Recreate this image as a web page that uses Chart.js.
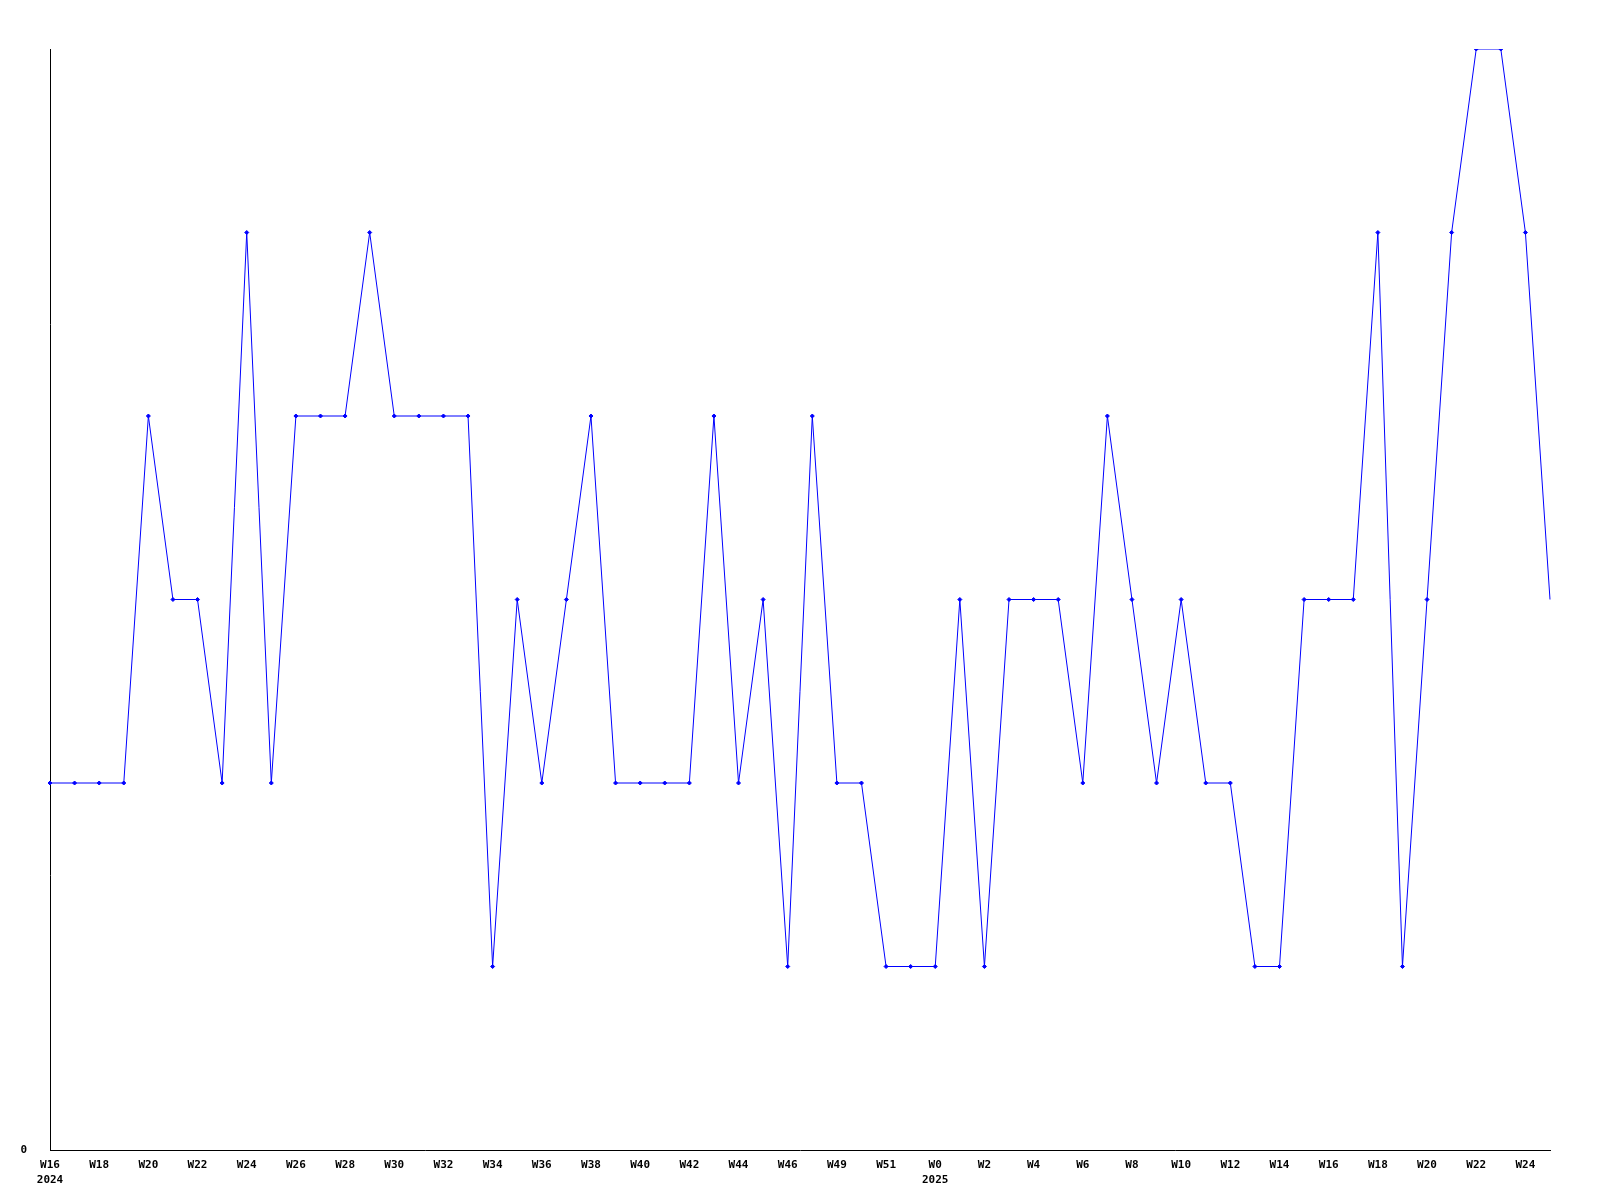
<!DOCTYPE html>
<html>
<head>
<meta charset="utf-8">
<script src="https://cdn.jsdelivr.net/npm/chart.js@4/dist/chart.umd.min.js"></script>
<style>
html,body{margin:0;padding:0;background:#fff;}
#wrap{width:1600px;height:1200px;}
</style>
</head>
<body>
<div id="wrap"><canvas id="c" width="1600" height="1200"></canvas></div>
<script>
const weeks = [
  "W16","W17","W18","W19","W20","W21","W22","W23","W24","W25",
  "W26","W27","W28","W29","W30","W31","W32","W33","W34","W35",
  "W36","W37","W38","W39","W40","W41","W42","W43","W44","W45",
  "W46","W47","W49","W50","W51","W52",
  "W0","W1","W2","W3","W4","W5","W6","W7","W8","W9",
  "W10","W11","W12","W13","W14","W15","W16","W17","W18","W19",
  "W20","W21","W22","W23","W24","W25"
];
const yearMarks = {0: "2024", 36: "2025"};
const values = [
  2,2,2,2,4,3,3,2,5,2,
  4,4,4,5,4,4,4,4,1,3,
  2,3,4,2,2,2,2,4,2,3,
  1,4,2,2,1,1,
  1,3,1,3,3,3,2,4,3,2,
  3,2,2,1,1,3,3,3,5,1,
  3,5,6,6,5,3
];
const yTickLabels = {0: "0"};

const radii = values.map((v, i) => i === values.length - 1 ? 0 : 2);

new Chart(document.getElementById('c'), {
  type: 'line',
  data: {
    labels: weeks,
    datasets: [{
      data: values,
      borderColor: '#0000ff',
      backgroundColor: '#0000ff',
      borderWidth: 1,
      pointRadius: radii,
      pointStyle: 'rectRot',
      pointBorderWidth: 1,
      tension: 0,
      fill: false
    }]
  },
  options: {
    responsive: false,
    animation: false,
    devicePixelRatio: 1,
    layout: {padding: {top: 49, right: 50, left: 0, bottom: 0}},
    plugins: {legend: {display: false}, tooltip: {enabled: false}},
    scales: {
      x: {
        type: 'category',
        offset: false,
        grid: {display: false},
        border: {display: true, color: '#000', width: 1},
        ticks: {
          autoSkip: false,
          maxRotation: 0,
          minRotation: 0,
          padding: 0,
          color: '#000',
          font: {family: 'DejaVu Sans Mono', size: 11, weight: 'bold', lineHeight: '15px'},
          callback: function(val, idx) {
            if (idx % 2 !== 0) return '';
            const w = weeks[idx];
            if (yearMarks[idx]) return [w, yearMarks[idx]];
            return w;
          }
        },
        afterFit: function(s) { s.height = 50; }
      },
      y: {
        min: 0,
        max: 6,
        grid: {display: false},
        border: {display: true, color: '#000', width: 1},
        ticks: {
          stepSize: 1,
          padding: 15,
          color: '#000',
          font: {family: 'DejaVu Sans Mono', size: 11, weight: 'bold'},
          callback: function(v) { return yTickLabels[v] !== undefined ? yTickLabels[v] : ''; }
        },
        afterFit: function(s) { s.width = 50; }
      }
    }
  }
});
</script>
</body>
</html>
